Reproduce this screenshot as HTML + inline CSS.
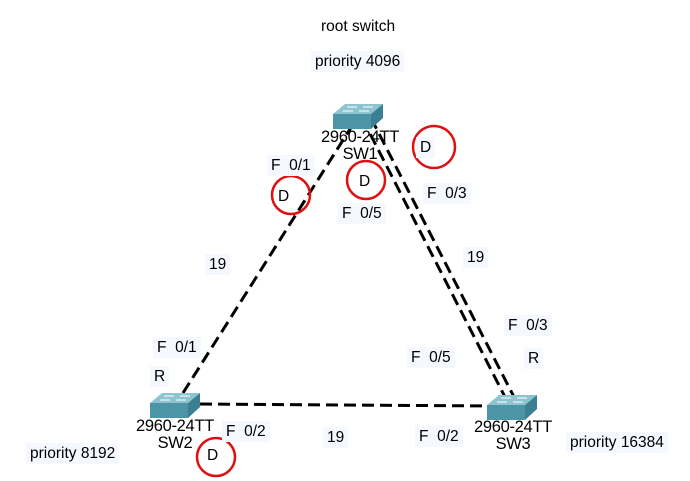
<!DOCTYPE html>
<html><head><meta charset="utf-8"><style>
body{margin:0;width:690px;height:481px;background:#fff;position:relative;overflow:hidden;font-family:"Liberation Sans",Arial,sans-serif;font-size:15.5px;color:#000}
.l{position:absolute;background:#f5f8ff;padding:2px 4px;line-height:17px;white-space:nowrap}
.t{position:absolute;text-align:center;line-height:17px;font-size:16.5px;white-space:nowrap;letter-spacing:-0.3px}
</style></head><body>
<svg width="690" height="481" style="position:absolute;left:0;top:0">
<g stroke="#000" stroke-width="3" stroke-dasharray="12,6" fill="none">
<line x1="183" y1="393" x2="357" y2="118"/>
<line x1="362" y1="118" x2="505" y2="397"/>
<line x1="371" y1="118" x2="514" y2="397"/>
<line x1="200" y1="404" x2="492" y2="406"/>
</g>
<defs><g id="sw">
<polygon points="0,10 12,0 50,0 38,10" fill="#8dc4cf"/>
<polygon points="0,10 38,10 38,25 0,25" fill="#4c95a7"/>
<polygon points="38,10 50,0 50,14 38,25" fill="#3a7f92"/>
<g stroke="#fff" stroke-width="1"><line x1="14" y1="3" x2="24" y2="3"/><line x1="30" y1="3" x2="40" y2="3"/><line x1="10" y1="7" x2="20" y2="7"/><line x1="26" y1="7" x2="36" y2="7"/></g>
</g></defs>
<use href="#sw" x="333" y="104"/>
<use href="#sw" x="150" y="393"/>
<use href="#sw" x="487" y="395"/>
<g stroke="#e01010" stroke-width="2.5" fill="none">
<circle cx="291" cy="195" r="19"/>
<circle cx="366" cy="180" r="19"/>
<circle cx="434" cy="147" r="21"/>
<circle cx="216" cy="457" r="19"/>
</g>
</svg>
<div class="t" style="left:310px;top:129px;width:100px">2960-24TT<br>SW1</div>
<div class="t" style="left:125px;top:418px;width:100px">2960-24TT<br>SW2</div>
<div class="t" style="left:463px;top:419px;width:100px">2960-24TT<br>SW3</div>
<div class="l" style="left:317px;top:16px;background:#fff">root switch</div>
<div class="l" style="left:311px;top:51px">priority 4096</div>
<div class="l" style="left:267px;top:155px">F&nbsp; 0/1</div>
<div class="l" style="left:274px;top:186px;background:none">D</div>
<div class="l" style="left:355px;top:171px;background:none">D</div>
<div class="l" style="left:416px;top:137px">D</div>
<div class="l" style="left:338px;top:203px">F&nbsp; 0/5</div>
<div class="l" style="left:423px;top:183px">F&nbsp; 0/3</div>
<div class="l" style="left:205px;top:254px">19</div>
<div class="l" style="left:463px;top:247px">19</div>
<div class="l" style="left:504px;top:315px">F&nbsp; 0/3</div>
<div class="l" style="left:524px;top:348px">R</div>
<div class="l" style="left:407px;top:347px">F&nbsp; 0/5</div>
<div class="l" style="left:153px;top:337px">F&nbsp; 0/1</div>
<div class="l" style="left:150px;top:366px">R</div>
<div class="l" style="left:222px;top:421px">F&nbsp; 0/2</div>
<div class="l" style="left:323px;top:427px">19</div>
<div class="l" style="left:415px;top:426px">F&nbsp; 0/2</div>
<div class="l" style="left:203px;top:445px;background:none">D</div>
<div class="l" style="left:26px;top:443px">priority 8192</div>
<div class="l" style="left:566px;top:432px">priority 16384</div>
</body></html>
